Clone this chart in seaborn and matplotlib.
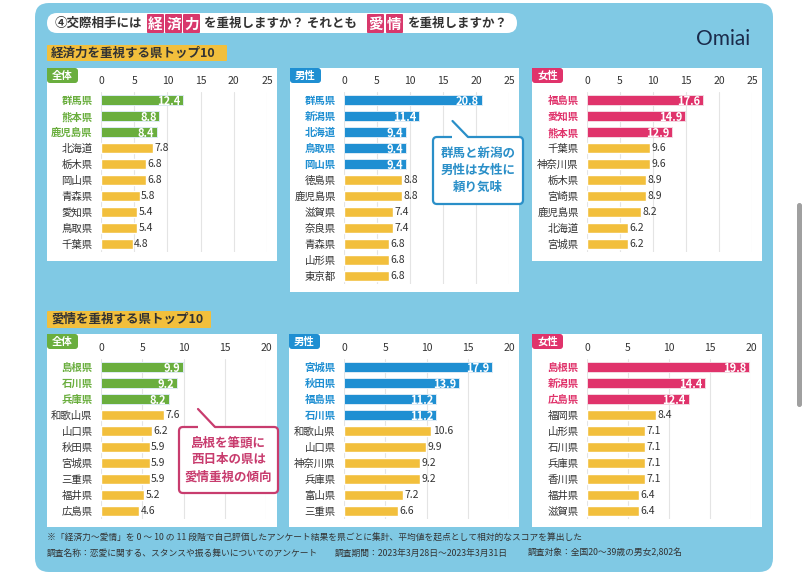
import matplotlib
matplotlib.use("Agg")
import matplotlib.pyplot as plt
import seaborn as sns
from matplotlib.patches import FancyBboxPatch

W, H = 809, 581

# ---- data ----
econ_all_pref = ['群馬県', '熊本県', '鹿児島県', '北海道', '栃木県', '岡山県', '青森県', '愛知県', '鳥取県', '千葉県']
econ_all_val = [12.4, 8.8, 8.4, 7.8, 6.8, 6.8, 5.8, 5.4, 5.4, 4.8]
econ_male_pref = ['群馬県', '新潟県', '北海道', '鳥取県', '岡山県', '徳島県', '鹿児島県', '滋賀県', '奈良県', '青森県', '山形県', '東京都']
econ_male_val = [20.8, 11.4, 9.4, 9.4, 9.4, 8.8, 8.8, 7.4, 7.4, 6.8, 6.8, 6.8]
econ_female_pref = ['福島県', '愛知県', '熊本県', '千葉県', '神奈川県', '栃木県', '宮崎県', '鹿児島県', '北海道', '宮城県']
econ_female_val = [17.6, 14.9, 12.9, 9.6, 9.6, 8.9, 8.9, 8.2, 6.2, 6.2]

love_all_pref = ['島根県', '石川県', '兵庫県', '和歌山県', '山口県', '秋田県', '宮城県', '三重県', '福井県', '広島県']
love_all_val = [9.9, 9.2, 8.2, 7.6, 6.2, 5.9, 5.9, 5.9, 5.2, 4.6]
love_male_pref = ['宮城県', '秋田県', '福島県', '石川県', '和歌山県', '山口県', '神奈川県', '兵庫県', '富山県', '三重県']
love_male_val = [17.9, 13.9, 11.2, 11.2, 10.6, 9.9, 9.2, 9.2, 7.2, 6.6]
love_female_pref = ['島根県', '新潟県', '広島県', '福岡県', '山形県', '石川県', '兵庫県', '香川県', '福井県', '滋賀県']
love_female_val = [19.8, 14.4, 12.4, 8.4, 7.1, 7.1, 7.1, 7.1, 6.4, 6.4]

# colours
SKY = '#80C9E4'
GREEN = '#6AAE3E'
BLUE = '#1F8FD2'
PINK = '#E0336B'
YELLOW = '#F2BF3C'
DARK = '#333333'

sns.set_theme(style="white")
plt.rcParams['font.family'] = ['Noto Sans CJK JP', 'DejaVu Sans']

fig = plt.figure(figsize=(W / 100, H / 100), dpi=100)
fig.patch.set_facecolor('white')


def px_axes(x0, y0, x1, y1):
    # axes placed by pixel box (top-left origin)
    return fig.add_axes([x0 / W, 1 - y1 / H, (x1 - x0) / W, (y1 - y0) / H])


def rbox(ax, x0, y0, x1, y1, r, fc, ec='none', lw=0, z=1):
    p = FancyBboxPatch((x0 + r, y0 + r), x1 - x0 - 2 * r, y1 - y0 - 2 * r,
                       boxstyle=f"round,pad={r}", fc=fc, ec=ec, lw=lw, zorder=z)
    ax.add_patch(p)


bg = px_axes(0, 0, W, H)
bg.set_xlim(0, W)
bg.set_ylim(H, 0)
bg.axis('off')

# main sky-blue card + scrollbar
rbox(bg, 35, 3, 773, 572, 14, SKY)
rbox(bg, 797, 203, 802, 407, 2.5, '#A0A0A0')

# title pill
rbox(bg, 47, 13, 517, 33, 10, 'white', z=2)
tkw = dict(fontsize=9, va='center', weight='bold', color=DARK, zorder=3)
bg.text(55, 23, '④交際相手には', ha='left', **tkw)
bg.text(204, 23, 'を重視しますか？ それとも', ha='left', **tkw)
bg.text(407, 23, 'を重視しますか？', ha='left', **tkw)
for ch, x in zip('経済力愛情', [147, 165, 183, 367, 386]):
    rbox(bg, x, 14, x + 17, 33, 1, '#D8386C', z=3)
    bg.text(x + 8.5, 23.5, ch, ha='center', va='center', fontsize=10.5,
            weight='bold', color='white', zorder=4)

# logo
bg.text(723, 39, 'Omiai', fontsize=15, color='#1B2B4B', ha='center',
        va='center', family='Lato', zorder=3)

# section headers
rbox(bg, 47, 45, 227, 61, 1, YELLOW, z=2)
bg.text(51, 53, '経済力を重視する県トップ10', fontsize=9, weight='bold',
        color=DARK, va='center', ha='left', zorder=3)
rbox(bg, 47, 311, 211, 328, 1, YELLOW, z=2)
bg.text(51, 319.5, '愛情を重視する県トップ10', fontsize=9, weight='bold',
        color=DARK, va='center', ha='left', zorder=3)

# white chart panels with badges
panels = [
    (47, 68, 277, 261, '全体', GREEN),
    (290, 68, 519, 292, '男性', BLUE),
    (532, 68, 762, 261, '女性', PINK),
    (47, 334, 277, 527, '全体', GREEN),
    (289, 334, 519, 527, '男性', BLUE),
    (532, 334, 762, 527, '女性', PINK),
]
for x0, y0, x1, y1, badge, col in panels:
    bg.add_patch(plt.Rectangle((x0, y0), x1 - x0, y1 - y0, fc='white', ec='none', zorder=2))
    rbox(bg, x0, y0, x0 + 31, y0 + 15, 3, col, z=3)
    bg.add_patch(plt.Rectangle((x0, y0), 8, 8, fc=col, ec='none', zorder=3))
    bg.text(x0 + 15.5, y0 + 7.5, badge, fontsize=7.5, weight='bold',
            color='white', ha='center', va='center', zorder=4)


def draw_chart(x0, x1, y0, prefs, vals, n_hi, hi_color, xmax):
    n = len(prefs)
    ax = px_axes(x0, y0, x1, y0 + 16 * n)
    ax.patch.set_alpha(0)
    cols = [hi_color] * n_hi + [YELLOW] * (n - n_hi)
    sns.barplot(x=vals, y=prefs, hue=prefs, palette=cols, legend=False,
                orient='h', width=0.62, saturation=1, ax=ax)
    ax.set_xlim(0, xmax)
    ax.set_ylim(n - 0.5, -0.5)
    ax.xaxis.tick_top()
    ax.set_xticks(range(0, xmax + 1, 5))
    ax.tick_params(axis='x', length=0, pad=4, labelsize=7.5, labelcolor=DARK)
    ax.tick_params(axis='y', length=0, pad=6, labelsize=7.5)
    ax.grid(axis='x', color='#E4E4E4', lw=0.8)
    ax.grid(axis='y', visible=False)
    ax.set_axisbelow(True)
    for s in ax.spines.values():
        s.set_visible(False)
    ax.set_xlabel('')
    ax.set_ylabel('')
    for i, lab in enumerate(ax.get_yticklabels()):
        if i < n_hi:
            lab.set_color(hi_color)
            lab.set_fontweight('bold')
        else:
            lab.set_color(DARK)
    for i, p in enumerate(ax.patches[:n]):
        if i < n_hi:
            p.set_edgecolor('#F4D9E2' if hi_color == PINK else '#DDEBF5')
            p.set_linewidth(0.7)
    for i, v in enumerate(vals):
        if i < n_hi:
            ax.annotate(f'{v:.1f}', xy=(v, i), xytext=(-2, 0), textcoords='offset points',
                        ha='right', va='center_baseline', fontsize=8, weight='bold',
                        color='white')
        else:
            ax.annotate(f'{v:.1f}', xy=(v, i), xytext=(1, 1), textcoords='offset points',
                        ha='left', va='center_baseline', fontsize=7.5, color=DARK)
    return ax


draw_chart(101, 267, 92, econ_all_pref, econ_all_val, 3, GREEN, 25)
draw_chart(344, 509.5, 92, econ_male_pref, econ_male_val, 5, BLUE, 25)
draw_chart(587, 752, 92, econ_female_pref, econ_female_val, 3, PINK, 25)
draw_chart(101, 266, 359, love_all_pref, love_all_val, 3, GREEN, 20)
draw_chart(344, 509, 359, love_male_pref, love_male_val, 4, BLUE, 20)
draw_chart(587, 751, 359, love_female_pref, love_female_val, 3, PINK, 20)

# overlay for speech boxes
ov = px_axes(0, 0, W, H)
ov.set_xlim(0, W)
ov.set_ylim(H, 0)
ov.axis('off')
ov.patch.set_alpha(0)


def callout(x0, y0, x1, y1, tip, join, lines, col):
    rbox(ov, x0, y0, x1, y1, 4, 'white', ec=col, lw=1.6, z=5)
    ov.plot([tip[0], join[0]], [y0, y0], color='white', lw=3, zorder=6,
            solid_capstyle='butt')
    ov.plot([tip[0], join[0]], [tip[1], y0], color=col, lw=1.6, zorder=7)
    cx = (x0 + x1) / 2
    cy = (y0 + y1) / 2
    for k, t in enumerate(lines):
        ov.text(cx, cy + (k - (len(lines) - 1) / 2) * 17, t, fontsize=9,
                weight='bold', color=col, ha='center', va='center', zorder=8)


callout(433, 137, 523, 204, (452.5, 121), (468, 137),
        ['群馬と新潟の', '男性は女性に', '頼り気味'], '#2A8FC8')
callout(179, 427, 278, 493, (198, 409), (215, 427),
        ['島根を筆頭に', '西日本の県は', '愛情重視の傾向'], '#C83C6E')

# footnotes
fkw = dict(fontsize=6.3, color=DARK, ha='left', va='center')
bg.text(47, 538, '※「経済力〜愛情」を 0 〜 10 の 11 段階で自己評価したアンケート結果を県ごとに集計、'
        '平均値を起点として相対的なスコアを算出した', **fkw)
bg.text(47, 553, '調査名称：恋愛に関する、スタンスや振る舞いについてのアンケート', **fkw)
bg.text(335, 553, '調査期間：2023年3月28日〜2023年3月31日', **fkw)
bg.text(528, 553, '調査対象：全国20〜39歳の男女2,802名', **fkw)

fig.savefig('out.png', dpi=100)
